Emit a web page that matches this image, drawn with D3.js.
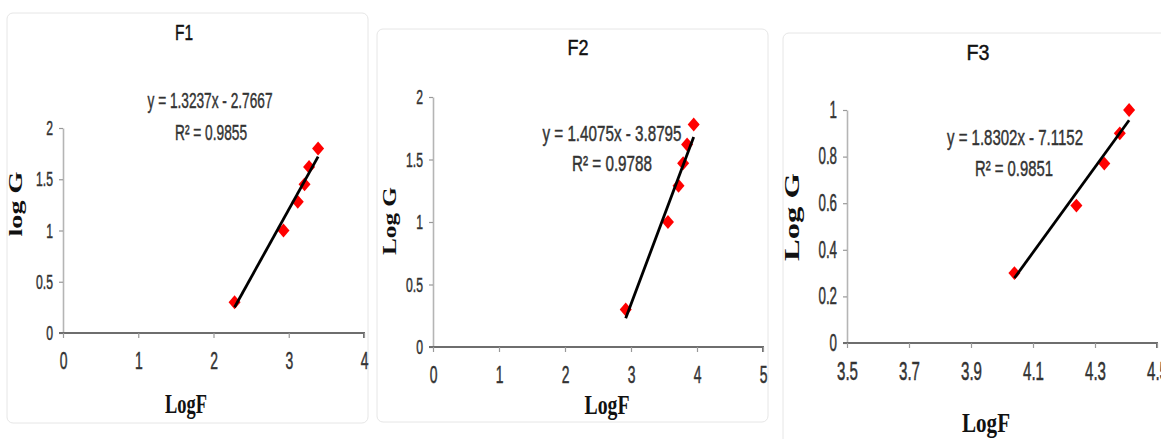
<!DOCTYPE html>
<html>
<head>
<meta charset="utf-8">
<script src="https://cdn.jsdelivr.net/npm/d3@7"></script>
<style>
  body { margin: 0; background: #fff; }
</style>
</head>
<body>
<svg id="chart" width="1161" height="439"></svg>
<script>
// ---- data ----
const f1LogF = [2.28, 2.93, 3.12, 3.21, 3.27, 3.39];
const f1LogG = [0.30, 1.00, 1.28, 1.45, 1.62, 1.80];
const f1Fit = [1.3237, -2.7667];
const f1R2 = "0.9855";
const f1XTicks = [0, 1, 2, 3, 4];
const f1YTicks = [0, 0.5, 1, 1.5, 2];

const f2LogF = [2.92, 3.56, 3.72, 3.79, 3.85, 3.95];
const f2LogG = [0.30, 1.00, 1.29, 1.47, 1.62, 1.78];
const f2Fit = [1.4075, -3.8795];
const f2R2 = "0.9788";
const f2XTicks = [0, 1, 2, 3, 4, 5];
const f2YTicks = [0, 0.5, 1, 1.5, 2];

const f3LogF = [4.04, 4.24, 4.33, 4.38, 4.41];
const f3LogG = [0.30, 0.59, 0.77, 0.90, 1.00];
const f3Fit = [1.8302, -7.1152];
const f3R2 = "0.9851";
const f3XTicks = [3.5, 3.7, 3.9, 4.1, 4.3, 4.5];
const f3YTicks = [0, 0.2, 0.4, 0.6, 0.8, 1];

const titles = ["F1", "F2", "F3"];
const yNames = ["log G", "Log G", "Log G"];
const xName = "LogF";

// ---- layout for each panel ----
const panels = [
  { title: titles[0], xs: f1LogF, ys: f1LogG, fit: f1Fit, r2: f1R2, xTicks: f1XTicks, yTicks: f1YTicks, yName: yNames[0],
    box: [7, 13, 361, 410], xr: [63, 364], yr: [333, 128],
    titleAt: [184, 40], titleW: 18, eqAt: [210, 108], eqW: 125, r2At: [211, 140], r2W: 72,
    yNameAt: [16, 204], yNameLen: 65, yNameSize: 18, xNameAt: [186, 413], xNameLen: 42, tickSize: 21 },
  { title: titles[1], xs: f2LogF, ys: f2LogG, fit: f2Fit, r2: f2R2, xTicks: f2XTicks, yTicks: f2YTicks, yName: yNames[1],
    box: [377, 29, 391, 393], xr: [433, 763], yr: [347, 97],
    titleAt: [578, 55], titleW: 21, eqAt: [612, 141], eqW: 139, r2At: [612, 171], r2W: 80,
    yNameAt: [390, 221], yNameLen: 68, yNameSize: 18, xNameAt: [607, 414], xNameLen: 45, tickSize: 21 },
  { title: titles[2], xs: f3LogF, ys: f3LogG, fit: f3Fit, r2: f3R2, xTicks: f3XTicks, yTicks: f3YTicks, yName: yNames[2],
    box: [783, 33, 400, 420], xr: [847, 1157], yr: [343, 110],
    titleAt: [978, 60], titleW: 23, eqAt: [1015, 145], eqW: 136, r2At: [1014, 176], r2W: 78,
    yNameAt: [792, 217], yNameLen: 88, yNameSize: 20, xNameAt: [986, 432], xNameLen: 48, tickSize: 23 }
];

const svg = d3.select("#chart");
const sans = "Arial, 'Liberation Sans', sans-serif";
const serif = "'Times New Roman', 'Liberation Serif', serif";
const fmt = d => String(+d.toFixed(2));
const squeeze = 0.58;

function stretchText(g, str, cx, cy, w, size, opts = {}) {
  return g.append("text")
    .attr("x", cx).attr("y", cy)
    .attr("text-anchor", "middle")
    .attr("font-family", opts.family || sans)
    .attr("font-weight", opts.weight || "normal")
    .attr("font-size", size)
    .attr("fill", opts.fill || "#222")
    .attr("stroke", opts.stroke || "none")
    .attr("stroke-width", opts.stroke ? 0.45 : null)
    .attr("textLength", w)
    .attr("lengthAdjust", "spacingAndGlyphs")
    .attr("transform", opts.transform || null)
    .text(str);
}

panels.forEach(p => {
  const g = svg.append("g");

  g.append("rect")
    .attr("x", p.box[0]).attr("y", p.box[1])
    .attr("width", p.box[2]).attr("height", p.box[3])
    .attr("rx", 6)
    .attr("fill", "none")
    .attr("stroke", "#e6e6e6");

  const x = d3.scaleLinear().domain([p.xTicks[0], p.xTicks[p.xTicks.length - 1]]).range(p.xr);
  const y = d3.scaleLinear().domain([p.yTicks[0], p.yTicks[p.yTicks.length - 1]]).range(p.yr);

  // y axis
  const ya = g.append("g")
    .attr("transform", `translate(${p.xr[0]},0)`)
    .call(d3.axisLeft(y).tickValues(p.yTicks).tickFormat(fmt).tickSize(4).tickSizeOuter(0).tickPadding(6));
  ya.select(".domain").attr("stroke", "#b5b5b5").attr("stroke-width", 1.6);
  ya.selectAll(".tick line").attr("stroke", "#999").attr("stroke-width", 1.2);
  ya.selectAll("text")
    .attr("font-family", sans).attr("font-size", p.tickSize).attr("fill", "#333")
    .attr("stroke", "#333").attr("stroke-width", 0.5)
    .attr("x", -10 / squeeze)
    .attr("transform", `scale(${squeeze},1)`);

  // x axis
  const xa = g.append("g")
    .attr("transform", `translate(0,${p.yr[0]})`)
    .call(d3.axisBottom(x).tickValues(p.xTicks).tickFormat(fmt).tickSize(5).tickSizeOuter(5).tickPadding(14));
  xa.select(".domain").attr("stroke", "#6e6e6e").attr("stroke-width", 2)
    .attr("d", `M${p.xr[0] - 4},0H${p.xr[1]}V5`);
  xa.selectAll(".tick line").attr("stroke", "#999").attr("stroke-width", 1.2);
  xa.selectAll("text")
    .attr("font-family", sans).attr("font-size", p.tickSize + 3).attr("fill", "#333")
    .attr("stroke", "#333").attr("stroke-width", 0.5)
    .attr("transform", `scale(${squeeze},1)`);

  // points
  g.selectAll("path.pt")
    .data(d3.zip(p.xs, p.ys))
    .join("path")
    .attr("class", "pt")
    .attr("d", d3.symbol(d3.symbolSquare, 72))
    .attr("transform", d => `translate(${x(d[0])},${y(d[1])}) scale(1,1.15) rotate(45)`)
    .attr("fill", "#ff0000");

  // trend line
  const lo = d3.min(p.xs), hi = d3.max(p.xs);
  g.append("line")
    .attr("x1", x(lo)).attr("y1", y(p.fit[0] * lo + p.fit[1]))
    .attr("x2", x(hi)).attr("y2", y(p.fit[0] * hi + p.fit[1]))
    .attr("stroke", "#000")
    .attr("stroke-width", 2.8);

  // texts
  stretchText(g, p.title, p.titleAt[0], p.titleAt[1], p.titleW, 22, { fill: "#111", stroke: "#111" });
  const eq = `y = ${p.fit[0].toFixed(4)}x - ${Math.abs(p.fit[1]).toFixed(4)}`;
  stretchText(g, eq, p.eqAt[0], p.eqAt[1], p.eqW, 22, { fill: "#333", stroke: "#333" });
  stretchText(g, `R² = ${p.r2}`, p.r2At[0], p.r2At[1], p.r2W, 22, { fill: "#333", stroke: "#333" });

  stretchText(g, p.yName, 0, 0, p.yNameLen, p.yNameSize,
    { family: serif, weight: "bold", fill: "#111",
      transform: `translate(${p.yNameAt[0] + p.yNameSize * 0.35},${p.yNameAt[1]}) rotate(-90)` });
  stretchText(g, xName, p.xNameAt[0], p.xNameAt[1], p.xNameLen, 28,
    { family: serif, weight: "bold", fill: "#111" });
});
</script>
</body>
</html>
